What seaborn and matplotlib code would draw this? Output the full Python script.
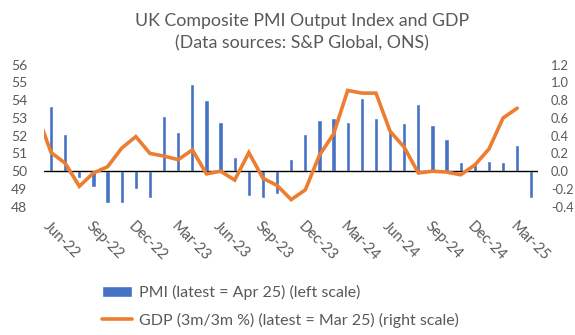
import numpy as np
import pandas as pd
import matplotlib
matplotlib.use("Agg")
import matplotlib.pyplot as plt
import seaborn as sns
from matplotlib.ticker import FixedLocator, FixedFormatter

# ---------------- data ----------------
months = ["Jun-22", "Jul-22", "Aug-22", "Sep-22", "Oct-22", "Nov-22", "Dec-22",
          "Jan-23", "Feb-23", "Mar-23", "Apr-23", "May-23", "Jun-23", "Jul-23",
          "Aug-23", "Sep-23", "Oct-23", "Nov-23", "Dec-23", "Jan-24", "Feb-24",
          "Mar-24", "Apr-24", "May-24", "Jun-24", "Jul-24", "Aug-24", "Sep-24",
          "Oct-24", "Nov-24", "Dec-24", "Jan-25", "Feb-25", "Mar-25", "Apr-25"]
pmi = [53.7, 52.1, 49.6, 49.1, 48.2, 48.2, 49.0,
       48.5, 53.1, 52.2, 54.9, 54.0, 52.8, 50.8,
       48.6, 48.5, 48.7, 50.7, 52.1, 52.9, 53.0,
       52.8, 54.1, 53.0, 52.3, 52.7, 53.8, 52.6,
       51.8, 50.5, 50.4, 50.6, 50.5, 51.5, 48.5]

gdp_months = ["May-22"] + months[:-1]
gdp = [0.65, 0.21, 0.09, -0.17, -0.02, 0.05, 0.26,
       0.39, 0.20, 0.17, 0.13, 0.24, -0.03, 0.00,
       -0.10, 0.21, -0.08, -0.16, -0.32, -0.21, 0.18,
       0.42, 0.91, 0.88, 0.88, 0.45, 0.27, -0.02,
       0.00, -0.01, -0.04, 0.07, 0.25, 0.60, 0.71]

x_tick_labels = ["Jun-22", "Sep-22", "Dec-22", "Mar-23", "Jun-23", "Sep-23",
                 "Dec-23", "Mar-24", "Jun-24", "Sep-24", "Dec-24", "Mar-25"]
left_ticks = [48, 49, 50, 51, 52, 53, 54, 55, 56]
right_ticks = [-0.4, -0.2, 0.0, 0.2, 0.4, 0.6, 0.8, 1.0, 1.2]
pmi_base = 50

title = "UK Composite PMI Output Index and GDP\n(Data sources: S&P Global, ONS)"
pmi_label = "PMI (latest = Apr 25) (left scale)"
gdp_label = "GDP (3m/3m %) (latest = Mar 25) (right scale)"

# ---------------- style ----------------
sns.set_theme(style="white")
plt.rcParams["font.family"] = ["Lato", "DejaVu Sans"]
GREY = "#595959"
BLUE = "#4472C4"
ORANGE = "#ED7D31"

W, H = 575, 335
fig = plt.figure(figsize=(W / 100, H / 100), dpi=100)
ax_left, ax_right, ax_top, ax_bottom = 44, 538.4, 64.7, 206.7
ax = fig.add_axes([ax_left / W, 1 - ax_bottom / H,
                   (ax_right - ax_left) / W, (ax_bottom - ax_top) / H])

df = pd.DataFrame({"month": months, "pmi": pmi})
df["dev"] = df["pmi"] - pmi_base
sns.barplot(data=df, x="month", y="dev", order=months, color=BLUE,
            saturation=1, width=0.3, ax=ax, zorder=2)

ax.axhline(0, color="black", lw=1.0, zorder=3)
ax.set_ylim(left_ticks[0] - pmi_base, left_ticks[-1] - pmi_base)
ax.yaxis.set_major_locator(FixedLocator([t - pmi_base for t in left_ticks]))
ax.yaxis.set_major_formatter(FixedFormatter([str(t) for t in left_ticks]))

# GDP on right axis
ax2 = ax.twinx()
pos_lookup = {m: i - 1 for i, m in enumerate(["May-22"] + months)}
gdf = pd.DataFrame({"pos": [pos_lookup[m] for m in gdp_months], "gdp": gdp})
sns.lineplot(data=gdf, x="pos", y="gdp", color=ORANGE, lw=2.6, ax=ax2,
             solid_joinstyle="miter", zorder=4)
ax2.set_ylim(right_ticks[0], right_ticks[-1])
ax2.yaxis.set_major_locator(FixedLocator(right_ticks))
ax2.yaxis.set_major_formatter(FixedFormatter([f"{v:.1f}" for v in right_ticks]))

ax.set_xlim(-0.5, len(months) - 0.5)
tick_pos = [months.index(m) for m in x_tick_labels]
ax.set_xticks(tick_pos)
ax.set_xticklabels(x_tick_labels, rotation=-45, ha="left", va="top",
                   rotation_mode="anchor")

for a in (ax, ax2):
    a.set_xlabel("")
    a.set_ylabel("")
    for s in a.spines.values():
        s.set_visible(False)
    a.grid(False)
    a.set_facecolor("none")

ax.tick_params(axis="x", length=0, pad=9, labelsize=10.5, labelcolor=GREY)
ax.tick_params(axis="y", length=0, pad=12, labelsize=10, labelcolor=GREY)
ax2.tick_params(axis="y", length=0, pad=9, labelsize=9.3, labelcolor=GREY)

fig.text(302 / W, 1 - 32.5 / H, title, ha="center", va="center",
         fontsize=12.8, color=GREY, linespacing=1.5)

bar_handle = ax.patches[0]
line_handle = ax2.lines[0]
leg = fig.legend([bar_handle, line_handle], [pmi_label, gdp_label],
                 loc="upper left", bbox_to_anchor=(102 / W, 1 - 285 / H),
                 frameon=False, fontsize=11.5, labelcolor=GREY,
                 borderpad=0, borderaxespad=0, handlelength=1.85,
                 handleheight=0.65, handletextpad=0.45, labelspacing=0.78)

fig.savefig("out.png", dpi=100, facecolor="white")
